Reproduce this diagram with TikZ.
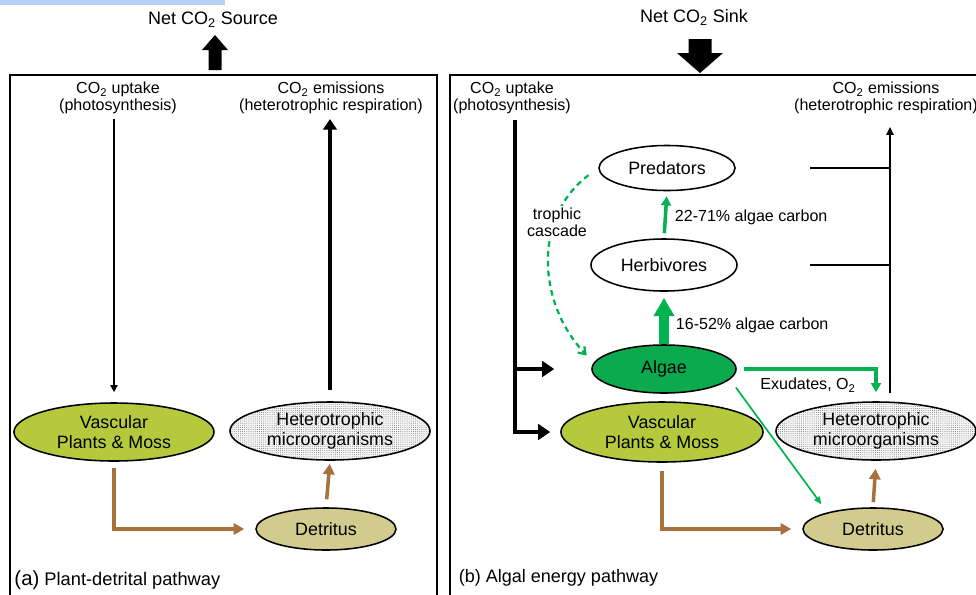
\documentclass[tikz,border=0pt]{standalone}
\usepackage{fontspec}
\setmainfont{Liberation Sans}
\usepackage{tikz}
\usetikzlibrary{arrows.meta,shapes.geometric,patterns.meta}
\usepackage{xcolor}
\definecolor{plantgreen}{RGB}{181,201,60}
\definecolor{algaegreen}{RGB}{12,170,78}
\definecolor{fluxgreen}{RGB}{0,178,80}
\definecolor{detrituscol}{RGB}{210,203,142}
\definecolor{litterbrown}{RGB}{166,113,58}
\definecolor{topbar}{RGB}{182,208,246}

\begin{document}
\begin{tikzpicture}[x=0.025cm,y=-0.025cm,
  pool/.style={ellipse,draw,line width=1.1pt,inner sep=0pt,align=center,
    font=\fontsize{12.7}{14.5}\selectfont},
  microbes/.style={pool,preaction={fill=gray!6},
    pattern={Dots[distance=1.5pt,radius=0.32pt]},pattern color=gray!85!black},
  flux/.style={align=center,font=\fontsize{11.4}{12.2}\selectfont},
  note/.style={font=\fontsize{11.4}{13}\selectfont},
  title/.style={font=\fontsize{12.8}{14}\selectfont},
  litter/.style={draw=litterbrown,line width=2.5pt,-{Triangle[length=7.5pt,width=8pt]}},
  branch/.style={line width=2.8pt,-{Triangle[length=8.5pt,width=11pt]}}]
\useasboundingbox (0,0) rectangle (976,594);
% strip at the very top
\fill[topbar] (0,0) rectangle (225,5);
% panel frames
\draw[line width=1.2pt] (10,600) -- (10,75) -- (437,75) -- (437,600);
\draw[line width=1.2pt] (450,600) -- (450,75) -- (980,75);

% net balance headings and block arrows
\node[title] (src) at (213,20) {Net CO\textsubscript{2} Source};
\node[title] (snk) at (694,17) {Net CO\textsubscript{2} Sink};
\fill (208.5,70) -- (208.5,50) -- (202,50) -- (215,35) -- (228,50) -- (221.5,50) -- (221.5,70) -- cycle;
\fill (688.5,39) -- (711.5,39) -- (711.5,53) -- (723,53) -- (700,73) -- (677,53) -- (688.5,53) -- cycle;

%%%% (a) plant-detrital pathway
\node[flux] (uA) at (118,98) {CO\textsubscript{2} uptake\\(photosynthesis)};
\node[flux] (eA) at (331,98) {CO\textsubscript{2} emissions\\(heterotrophic respiration)};
\node[pool,fill=plantgreen,minimum width=5cm,minimum height=1.45cm] (vaA) at (114,432) {Vascular\\Plants \& Moss};
\node[microbes,minimum width=5cm,minimum height=1.45cm] (hA) at (330,431) {Heterotrophic\\microorganisms};
\node[pool,fill=detrituscol,minimum width=3.5cm,minimum height=1.05cm] (dA) at (326,529) {Detritus};
\node[anchor=west,font=\fontsize{13}{15}\selectfont] (labA) at (9.5,580) {{\fontsize{14.5}{16}\selectfont(a)} Plant-detrital pathway};
% fluxes
\draw[line width=1pt,-{Triangle[length=5pt,width=5pt]},shorten >=0.25cm] (uA.south -| vaA.north) -- (vaA.north);
\draw[line width=3.3pt,-{Triangle[length=7.5pt,width=9.5pt]},shorten <=0.275cm] (hA.north) -- (eA.south -| hA.north);
\draw[litter,shorten <=0.15cm,shorten >=0.275cm] (vaA.south) |- (dA.west);
\draw[litter,shorten <=0.2cm,shorten >=0.075cm] (dA.north) -- (hA.south);

%%%% (b) algal energy pathway
\node[flux] (uB) at (512,98) {CO\textsubscript{2} uptake\\(photosynthesis)};
\node[flux] (eB) at (886,98) {CO\textsubscript{2} emissions\\(heterotrophic respiration)};
\node[pool,minimum width=3.4cm,minimum height=1.125cm] (pr) at (667,168) {Predators};
\node[pool,minimum width=3.65cm,minimum height=1.3cm] (hb) at (664,265) {Herbivores};
\node[pool,fill=algaegreen,minimum width=3.6cm,minimum height=1.2cm] (al) at (664,369) {Algae};
\node[pool,fill=plantgreen,minimum width=5.05cm,minimum height=1.5cm] (vaB) at (662,432) {Vascular\\Plants \& Moss};
\node[microbes,minimum width=5cm,minimum height=1.45cm] (hB) at (876,431) {Heterotrophic\\microorganisms};
\node[pool,fill=detrituscol,minimum width=3.5cm,minimum height=1.05cm] (dB) at (873,529) {Detritus};
\node[anchor=west,font=\fontsize{12.8}{15}\selectfont] (labB) at (454,578) {(b) Algal energy pathway};
% uptake trunk
\coordinate (trunk) at (515,120);
\draw[branch,shorten >=0.25cm] (trunk) |- (vaB.west);
\draw[branch,shorten >=0.925cm] (trunk |- al.west) -- (al.west);
% emission line
\coordinate (em) at (890,393);
\draw[line width=1.7pt,-{Triangle[length=5.5pt,width=5pt]},shorten >=0.2cm] (em) -- (em |- eB.south);
\draw[line width=1.7pt] (pr.east) ++(74,0) -- (pr.east -| em);
\draw[line width=1.7pt] (hb.east) ++(72,0) -- (hb.east -| em);
% food web
\draw[draw=fluxgreen,line width=2.5pt,-{Triangle[length=6.5pt,width=7pt]},shorten <=0.125cm,shorten >=0.125cm] (hb.north) -- (pr.south);
\node[note,anchor=west] (p1) at (670,217) {22-71\% algae carbon};
\draw[draw=fluxgreen,line width=7pt,-{Triangle[length=13pt,width=14pt]},shorten >=0.15cm] (al.north) -- (hb.south);
\node[note,anchor=west] (p2) at (671,325) {16-52\% algae carbon};
\draw[draw=fluxgreen,line width=1.6pt,dash pattern=on 4pt off 3pt,-{Straight Barb[length=4.5pt,width=6.5pt]},shorten <=0.3cm,shorten >=0.25cm]
  (pr.west) .. controls (535,215) and (535,300) .. (al.175);
\node[note,fill=white,align=center,inner sep=1pt,font=\fontsize{11.4}{12.2}\selectfont] (tc) at (557,222) {trophic\\cascade};
% algal exudates and litter
\draw[draw=fluxgreen,line width=2.4pt,-{Triangle[length=6.5pt,width=7pt]},shorten <=0.175cm,shorten >=0.225cm] (al.east) -| (hB.north);
\node[note] (ex) at (808,385) {Exudates, O\textsubscript{2}};
\draw[draw=fluxgreen,line width=1.2pt,-{Triangle[length=5.5pt,width=4.5pt]},shorten <=0.25cm,shorten >=0.25cm] (al.-9) -- (dB.160);
\draw[litter,shorten <=0.2cm,shorten >=0.275cm] (vaB.south) |- (dB.west);
\draw[litter,shorten <=0.125cm,shorten >=0.2cm] (dB.north) -- (hB.south);
\end{tikzpicture}
\end{document}
